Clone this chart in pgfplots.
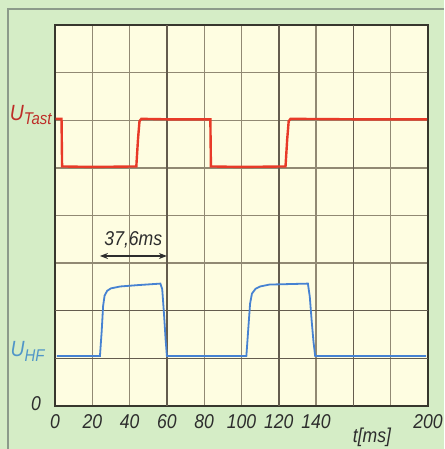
\documentclass[border=0pt]{standalone}
\usepackage{fontspec}
\setmainfont{Liberation Sans}[FakeStretch=0.88]
\usepackage{pgfplots}
\pgfplotsset{compat=1.18}
\usetikzlibrary{arrows.meta}
\definecolor{bggreen}{RGB}{213,237,198}
\definecolor{plotbg}{RGB}{254,253,225}
\definecolor{gridc}{RGB}{145,137,115}
\definecolor{gridd}{RGB}{100,92,78}
\definecolor{framec}{RGB}{55,55,45}
\definecolor{sigred}{RGB}{232,58,40}
\definecolor{sigblue}{RGB}{70,130,210}
\definecolor{labred}{RGB}{190,45,40}
\definecolor{labblue}{RGB}{80,150,200}
\definecolor{txt}{RGB}{45,45,45}
\begin{document}
\begin{tikzpicture}
\useasboundingbox (-27.5pt,-21.5pt) rectangle (194.5pt,203pt);
\fill[bggreen] (-27.5pt,-21.5pt) rectangle (194.5pt,203pt);
\draw[color={rgb,255:red,140;green,155;blue,138}, line width=0.9pt] (-23.5pt,-21.5pt) -- (-23.5pt,198.5pt) -- (194.5pt,198.5pt);
\begin{axis}[
  at={(0,0)}, anchor=south west,
  scale only axis, width=186.5pt, height=190.5pt,
  xmin=0, xmax=200, ymin=0, ymax=8,
  xtick={0,20,...,200},
  xticklabels={0,20,40,60,80,100,120,140,,,200},
  ytick={0,1,...,8}, yticklabels={},
  major tick length=0pt,
  grid=major,
  major grid style={gridc, line width=0.65pt},
  axis line style={framec, line width=1pt},
  axis background/.style={fill=plotbg},
  xticklabel style={font=\itshape\fontsize{10}{10}\selectfont, text=txt, yshift=-0.5pt},
  clip=false,
]
\draw[gridd, line width=0.75pt] (axis cs:120,0) -- (axis cs:120,8);
\draw[gridd, line width=0.75pt] (axis cs:160,0) -- (axis cs:160,8);
\draw[gridd, line width=0.7pt] (axis cs:60,0) -- (axis cs:60,8);
\draw[gridd, line width=0.7pt] (axis cs:0,1) -- (axis cs:200,1);
\draw[gridd, line width=0.7pt] (axis cs:0,2) -- (axis cs:200,2);
\addplot[sigred, line width=1.2pt] coordinates {
 (0.3,6.03) (3.5,6.03) (3.8,5.03) (20,5.02) (43.6,5.03) (44.5,5.6) (45.3,5.98) (46.3,6.03)
 (60,6.02) (83.3,6.02) (83.6,5.03) (100,5.02) (123.6,5.03) (124.5,5.6) (125.3,5.98) (126.3,6.03)
 (160,6.02) (199.5,6.02)};
\addplot[sigblue, line width=0.9pt] coordinates {
 (1,1.05) (24.1,1.05) (25.0,1.55) (25.8,2.1) (26.6,2.32) (28,2.42) (30,2.47) (35,2.51)
 (45,2.54) (56.5,2.57) (57.5,2.45) (58.5,1.9) (59.3,1.4) (60,1.05) (102.6,1.05) (103.6,1.6)
 (104.6,2.15) (105.6,2.36) (107.5,2.46) (110,2.51) (115,2.55) (135.6,2.57) (136.6,2.3)
 (137.6,1.8) (138.6,1.35) (139.5,1.05) (199,1.05)};
\draw[txt, line width=0.6pt, {Stealth[length=4pt]}-{Stealth[length=4pt]}] (axis cs:24.1,3.15) -- (axis cs:60,3.15);
\node[txt, font=\itshape\fontsize{10}{10}\selectfont] at (axis cs:42,3.5) {37,6ms};
\end{axis}
\node[txt, font=\itshape\fontsize{10}{10}\selectfont, anchor=east] at (-3.5pt,1pt) {0};
\node[labblue, font=\itshape, anchor=base east, inner sep=0pt] at (-5pt,24.5pt) {\fontsize{11}{11}\selectfont U\raisebox{-2pt}{\fontsize{8.5}{8.5}\selectfont HF}};
\node[labred, font=\itshape, anchor=base east, inner sep=0pt] at (-1.5pt,142.6pt) {\fontsize{11}{11}\selectfont U\raisebox{-2pt}{\fontsize{8.5}{8.5}\selectfont Tast}};
\node[txt, font=\itshape\fontsize{10}{10}\selectfont] at (158.5pt,-15.5pt) {t[ms]};
\end{tikzpicture}
\end{document}
